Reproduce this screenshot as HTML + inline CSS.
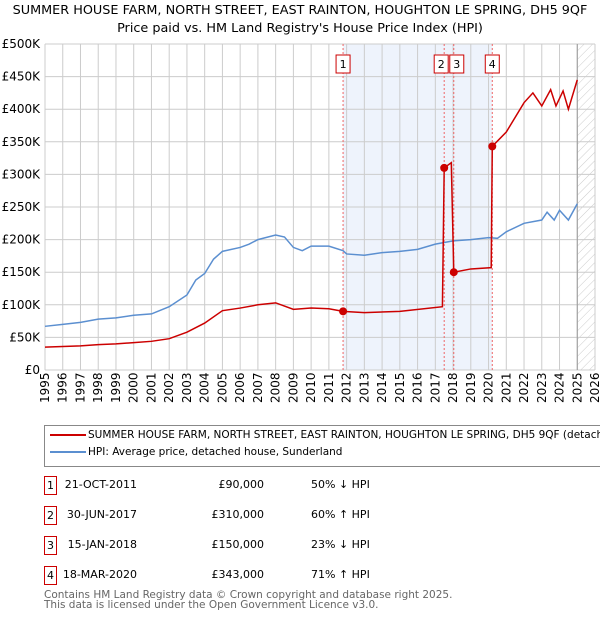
<!DOCTYPE html>
<html><head><meta charset="utf-8"><style>
body{margin:0;width:600px;height:620px;background:#fff;font-family:"DejaVu Sans","Liberation Sans",sans-serif;overflow:hidden;position:relative}
.t{position:absolute;font-size:11px;color:#000}
.box{position:absolute;border:1px solid #c00;width:11px;height:17px;text-align:center;font-size:11px;line-height:17px}
svg text{font-family:"DejaVu Sans","Liberation Sans",sans-serif}
</style></head><body>
<div class="t" style="left:-20px;width:640px;text-align:center;top:2px;font-size:12.8px;line-height:18px;white-space:nowrap">SUMMER HOUSE FARM, NORTH STREET, EAST RAINTON, HOUGHTON LE SPRING, DH5 9QF<br>Price paid vs. HM Land Registry's House Price Index (HPI)</div>
<svg id="c" width="600" height="410" style="position:absolute;left:0;top:0"></svg>
<div style="position:absolute;left:44px;top:425px;width:570px;height:40px;border:1px solid #888;font-size:10.5px;overflow:hidden">
<div style="position:absolute;left:43px;top:3px;white-space:nowrap">SUMMER HOUSE FARM, NORTH STREET, EAST RAINTON, HOUGHTON LE SPRING, DH5 9QF (detached house)</div>
<div style="position:absolute;left:5px;top:8px;width:36px;height:2px;background:#c00"></div>
<div style="position:absolute;left:43px;top:20px">HPI: Average price, detached house, Sunderland</div>
<div style="position:absolute;left:5px;top:25px;width:36px;height:2px;background:#5b8fd0"></div>
</div>
<div id="tbl"></div>
<div class="t" style="left:44px;top:590px;font-size:10.5px;color:#666;line-height:10px">Contains HM Land Registry data © Crown copyright and database right 2025.<br>This data is licensed under the Open Government Licence v3.0.</div>
<script>
const hpiYears=[1995,1996,1997,1998,1999,2000,2001,2002,2003,2003.5,2004,2004.5,2005,2006,2006.5,2007,2008,2008.5,2009,2009.5,2010,2011,2011.8,2012,2013,2014,2015,2016,2017,2018,2019,2020,2020.5,2021,2022,2023,2023.3,2023.7,2024,2024.5,2025];
const hpiValues=[67,70,73,78,80,84,86,97,115,138,148,170,182,188,193,200,207,204,188,183,190,190,183,178,176,180,182,185,193,198,200,203,202,212,225,230,242,230,245,230,255];
const propYears=[1995,1996,1997,1998,1999,2000,2001,2002,2003,2004,2005,2006,2007,2008,2009,2010,2011,2011.8,2013,2015,2017.4,2017.5,2017.9,2018.04,2019,2020.15,2020.21,2021,2022,2022.5,2023,2023.5,2023.8,2024.2,2024.5,2025];
const propValues=[35,36,37,39,40,42,44,48,58,72,91,95,100,103,93,95,94,90,88,90,97,310,318,150,155,157,343,365,410,425,405,430,405,428,400,445];
const saleYears=[2011.8,2017.5,2018.04,2020.21];
const saleValues=[90,310,150,343];
const saleLabels=["1","2","3","4"];
const saleDates=["21-OCT-2011","30-JUN-2017","15-JAN-2018","18-MAR-2020"];
const salePrices=["£90,000","£310,000","£150,000","£343,000"];
const saleHpi=["50% ↓ HPI","60% ↑ HPI","23% ↓ HPI","71% ↑ HPI"];
const yTicks=[0,50,100,150,200,250,300,350,400,450,500];
const yTickLabels=["£0","£50K","£100K","£150K","£200K","£250K","£300K","£350K","£400K","£450K","£500K"];
const L=45,R=595,T=44,B=370;
const X=y=>L+(y-1995)*(R-L)/31, Y=v=>B-v*(B-T)/500;
const s=document.getElementById('c'),NS="http://www.w3.org/2000/svg";
function mk(t,a,p){const e=document.createElementNS(NS,t);for(const k in a)e.setAttribute(k,a[k]);(p||s).appendChild(e);return e;}
let e=mk('rect',{x:X(saleYears[0]),y:T,width:X(saleYears[3])-X(saleYears[0]),height:B-T,fill:'#eef3fc'});

const pat=mk('pattern',{id:'h',width:6,height:6,patternUnits:'userSpaceOnUse',patternTransform:'rotate(45)'},mk('defs',{}));
mk('line',{x1:0,y1:0,x2:0,y2:6,stroke:'#ccc','stroke-width':1},pat);
e=mk('rect',{x:X(2025),y:T,width:R-X(2025),height:B-T,fill:'url(#h)'});

for(let yr=1995;yr<=2026;yr++){mk('line',{x1:X(yr),x2:X(yr),y1:T,y2:B,stroke:'#ccc'});
 e=mk('text',{x:0,y:0,transform:`translate(${X(yr)+4},${B+33}) rotate(-90)`,'font-size':12,fill:'#000'});e.textContent=yr;
 }
yTicks.forEach((v,i)=>{mk('line',{x1:L,x2:R,y1:Y(v),y2:Y(v),stroke:'#ccc'});
 e=mk('text',{x:L-5,y:Y(v)+4,'text-anchor':'end','font-size':12});e.textContent=yTickLabels[i];
 });
mk('line',{x1:X(2025),x2:X(2025),y1:T,y2:B,stroke:'#999'});
saleYears.forEach(y=>mk('line',{x1:X(y),x2:X(y),y1:T,y2:B,stroke:'#e66','stroke-dasharray':'2,2'}));
e=mk('polyline',{points:hpiYears.map((y,i)=>X(y)+','+Y(hpiValues[i])).join(' '),fill:'none',stroke:'#5b8fd0','stroke-width':1.5});

e=mk('polyline',{points:propYears.map((y,i)=>X(y)+','+Y(propValues[i])).join(' '),fill:'none',stroke:'#c00','stroke-width':1.5});

saleYears.forEach((y,i)=>{e=mk('circle',{cx:X(y),cy:Y(saleValues[i]),r:4,fill:'#c00'});
 
 const bx=i==1?X(y)-10:i==2?X(y)-4:X(y)-7;
 mk('rect',{x:bx,y:55,width:14,height:18,fill:'#fff',stroke:'#c00'});
 e=mk('text',{x:bx+7,y:68,'text-anchor':'middle','font-size':11});e.textContent=saleLabels[i];
 });
const tb=document.getElementById('tbl');
saleLabels.forEach((l,i)=>{const top=476+i*30;
 tb.insertAdjacentHTML('beforeend',`<div class="box" style="left:44px;top:${top}px">${l}</div>
<div class="t" style="left:50px;width:87px;text-align:right;top:${top+2}px">${saleDates[i]}</div>
<div class="t" style="left:170px;width:94px;text-align:right;top:${top+2}px">${salePrices[i]}</div>
<div class="t" style="left:311px;top:${top+2}px">${saleHpi[i]}</div>`);});
</script>
</body></html>
